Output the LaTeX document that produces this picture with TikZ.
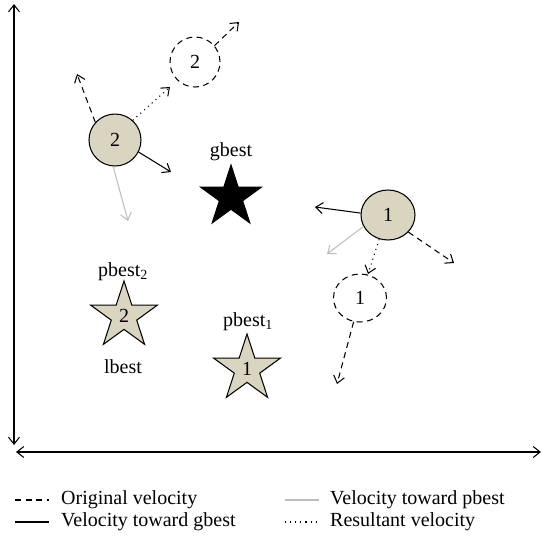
\documentclass[tikz,border=0pt]{standalone}
\usepackage{fontspec}
\setmainfont{Liberation Serif}
\usetikzlibrary{arrows.meta,shapes.geometric}
\definecolor{beige}{HTML}{D9D5C1}
\definecolor{lgrey}{HTML}{BDBDBD}
\tikzset{
  tip/.style={-{Straight Barb[length=7pt,width=11pt]}},
  lw/.style={line width=1.05pt},
  orig/.style={lw,tip,dash pattern=on 6pt off 4.5pt},
  gb/.style={lw,tip},
  pb/.style={lw,tip,lgrey},
  res/.style={lw,tip,dash pattern=on 1.1pt off 4pt},
  part/.style={circle,draw,lw,fill=beige,minimum size=52pt,inner sep=0pt},
  ghost/.style={circle,draw,lw,dash pattern=on 6pt off 4.5pt,minimum size=50pt,inner sep=0pt},
  pstar/.style={star,star points=5,star point ratio=2.618,draw,lw,fill=beige,minimum size=70pt,inner sep=0pt},
  lab/.style={inner sep=0pt},
}
\begin{document}
\begin{tikzpicture}[x=1pt,y=-1pt,font=\fontsize{20}{23}\selectfont]
\useasboundingbox (0,0) rectangle (543,539);
% axes
\coordinate (vb) at (14,445);
\coordinate (vt) at (14,4);
\coordinate (hl) at (16,452);
\coordinate (hr) at (541,452);
\draw[lw,{Straight Barb[length=7pt,width=11pt]}-{Straight Barb[length=7pt,width=11pt]}] (vb) -- (vt);
\draw[lw,{Straight Barb[length=7pt,width=11pt]}-{Straight Barb[length=7pt,width=11pt]}] (hl) -- (hr);

% particle 2
\node[part] (p2) at (115,140) {2};
\node[ghost] (g2) at (195,62) {2};
\coordinate (p2o) at (77,74);
\coordinate (p2r) at (170,87);
\coordinate (p2g) at (171,172);
\coordinate (p2p) at (128,221);
\coordinate (g2o) at (239,22);
\draw[orig] (p2.138) -- (p2o);
\draw[res] (p2.48) -- (p2r);
\draw[gb] (p2.-27) -- (p2g);
\draw[pb] (p2.-94) -- (p2p);
\draw[orig] (g2.40) -- (g2o);

% gbest
\node[star,star points=5,star point ratio=2.618,fill=black,draw,lw,minimum size=64pt,inner sep=0pt] (gbest) at (231,197) {};
\node[lab] (gbl) at (231,152) {gbest};

% particle 1
\node[ellipse,draw,lw,fill=beige,minimum width=54pt,minimum height=50pt,inner sep=0pt] (p1) at (388,215) {1};
\node[ellipse,draw,lw,dash pattern=on 6pt off 4.5pt,minimum width=53pt,minimum height=48pt,inner sep=0pt] (g1) at (360,298) {1};
\coordinate (p1g) at (315,207);
\coordinate (p1p) at (327,254);
\coordinate (p1o) at (454,263);
\coordinate (p1r) at (368,274);
\coordinate (g1o) at (337,384);
\draw[gb] (p1.176) -- (p1g);
\draw[pb] (p1.205) -- (p1p);
\draw[orig] (p1.-40) -- (p1o);
\draw[res] (p1.-110) -- (p1r);
\draw[orig] (g1.-105) -- (g1o);

% pbest stars
\node[pstar] (pb2) at (124,316) {2};
\node[lab] (pb2l) at (123,272) {pbest\textsubscript{2}};
\node[lab] (lb) at (123,367) {lbest};
\node[pstar] (pb1) at (247,369) {1};
\node[lab] (pb1l) at (248,322) {pbest\textsubscript{1}};

% legend
\coordinate (l1a) at (15,500); \coordinate (l1b) at (49,500);
\coordinate (l2a) at (15,522); \coordinate (l2b) at (49,522);
\coordinate (l3a) at (285,500); \coordinate (l3b) at (319,500);
\coordinate (l4a) at (285,522); \coordinate (l4b) at (319,522);
\draw[lw,dash pattern=on 6pt off 4.5pt] (l1a) -- (l1b);
\draw[lw] (l2a) -- (l2b);
\draw[lw,lgrey] (l3a) -- (l3b);
\draw[lw,dash pattern=on 1.1pt off 4pt] (l4a) -- (l4b);
\node[lab,anchor=west] (t1) at (61,500) {Original velocity};
\node[lab,anchor=west] (t2) at (61,522) {Velocity toward gbest};
\node[lab,anchor=west] (t3) at (330,500) {Velocity toward pbest};
\node[lab,anchor=west] (t4) at (330,522) {Resultant velocity};
\end{tikzpicture}
\end{document}
